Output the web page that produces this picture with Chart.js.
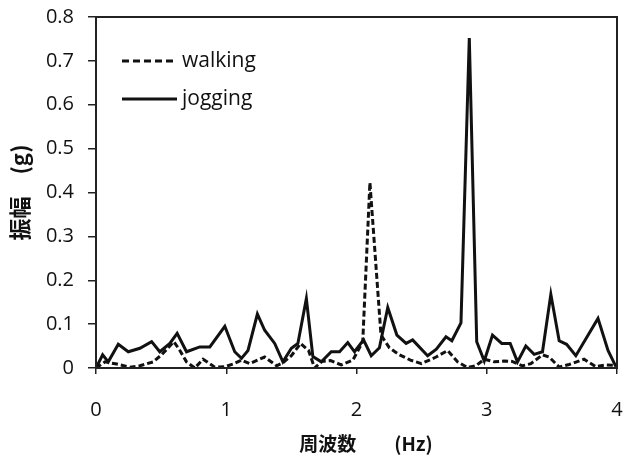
<!DOCTYPE html>
<html><head><meta charset="utf-8">
<script src="https://cdn.jsdelivr.net/npm/chart.js@4/dist/chart.umd.min.js"></script>
<style>html,body{margin:0;padding:0;background:#fff}#wrap{width:625px;height:455px;position:relative}</style>
</head><body><div id="wrap"><canvas id="c" width="625" height="455"></canvas></div>
<script>
const seriesNames = ['walking', 'jogging'];
const walkFreq = [0, 0.069, 0.159, 0.261, 0.337, 0.439, 0.503, 0.598, 0.644, 0.695, 0.759, 0.822, 0.912, 0.989, 1.052, 1.116, 1.180, 1.295, 1.387, 1.435, 1.500, 1.571, 1.632, 1.678, 1.732, 1.801, 1.883, 1.972, 2.048, 2.103, 2.188, 2.253, 2.330, 2.414, 2.498, 2.611, 2.700, 2.776, 2.853, 2.917, 2.981, 3.057, 3.134, 3.195, 3.274, 3.339, 3.428, 3.479, 3.556, 3.632, 3.747, 3.837, 3.913, 3.992];
const walkAmp = [0, 0.014, 0.009, 0.002, 0.005, 0.014, 0.030, 0.060, 0.040, 0.014, 0.000, 0.020, 0.002, 0.003, 0.009, 0.018, 0.010, 0.025, 0.005, 0.012, 0.028, 0.056, 0.040, 0.000, 0.015, 0.017, 0.007, 0.018, 0.060, 0.423, 0.075, 0.046, 0.030, 0.018, 0.010, 0.025, 0.040, 0.014, 0.001, 0.005, 0.020, 0.014, 0.016, 0.015, 0.005, 0.010, 0.030, 0.025, 0.002, 0.008, 0.020, 0.003, 0.007, 0.006];
const jogFreq = [0, 0.051, 0.094, 0.171, 0.248, 0.337, 0.427, 0.490, 0.567, 0.623, 0.695, 0.797, 0.874, 0.989, 1.065, 1.117, 1.167, 1.239, 1.295, 1.372, 1.435, 1.500, 1.550, 1.615, 1.665, 1.730, 1.806, 1.870, 1.933, 1.985, 2.054, 2.113, 2.176, 2.240, 2.310, 2.381, 2.431, 2.546, 2.613, 2.687, 2.732, 2.802, 2.866, 2.923, 2.981, 3.044, 3.115, 3.180, 3.236, 3.300, 3.364, 3.428, 3.492, 3.556, 3.613, 3.684, 3.854, 3.931, 3.992];
const jogAmp = [0, 0.030, 0.014, 0.054, 0.037, 0.045, 0.060, 0.037, 0.056, 0.079, 0.037, 0.048, 0.048, 0.095, 0.037, 0.022, 0.040, 0.123, 0.086, 0.056, 0.014, 0.045, 0.056, 0.158, 0.026, 0.014, 0.037, 0.037, 0.058, 0.037, 0.064, 0.028, 0.046, 0.138, 0.075, 0.056, 0.064, 0.028, 0.043, 0.071, 0.062, 0.103, 0.752, 0.060, 0.016, 0.075, 0.056, 0.056, 0.014, 0.050, 0.031, 0.037, 0.168, 0.062, 0.054, 0.028, 0.113, 0.040, 0.003];
const xTicks = [0, 1, 2, 3, 4];
const yTicks = [0, 0.1, 0.2, 0.3, 0.4, 0.5, 0.6, 0.7, 0.8];
const xTitle = '　周波数　　(Hz)';
const yTitle = '振幅　(g)';

const INK = '#111';
const toPts = (xs, ys) => xs.map((x, i) => ({x: x, y: ys[i]}));

const boxPlugin = {
  id: 'box',
  afterDraw(chart) {
    const {ctx, chartArea: a} = chart;
    ctx.save();
    ctx.strokeStyle = '#222';
    ctx.lineWidth = 2;
    ctx.setLineDash([]);
    ctx.strokeRect(a.left, a.top, a.right - a.left, a.bottom - a.top);
    ctx.restore();
  }
};

const legendPlugin = {
  id: 'inLegend',
  afterDraw(chart) {
    const {ctx} = chart;
    const rows = [{y: 61, txtY: 61}, {y: 99, txtY: 99}];
    ctx.save();
    chart.data.datasets.forEach((ds, i) => {
      const r = rows[i];
      ctx.strokeStyle = ds.borderColor;
      ctx.lineWidth = 3;
      ctx.setLineDash(ds.borderDash ? [7, 4] : []);
      ctx.beginPath();
      ctx.moveTo(122, r.y);
      ctx.lineTo(177, r.y);
      ctx.stroke();
      ctx.setLineDash([]);
      ctx.fillStyle = INK;
      ctx.font = '21px "Open Sans"';
      ctx.textBaseline = 'middle';
      ctx.textAlign = 'left';
      ctx.fillText(ds.label, 182, r.txtY);
    });
    ctx.restore();
  }
};

new Chart(document.getElementById('c'), {
  type: 'scatter',
  data: {
    datasets: [
      {label: seriesNames[0], data: toPts(walkFreq, walkAmp), showLine: true, borderColor: INK, borderWidth: 3, borderDash: [6, 3], pointRadius: 0, tension: 0, fill: false},
      {label: seriesNames[1], data: toPts(jogFreq, jogAmp), showLine: true, borderColor: INK, borderWidth: 3, pointRadius: 0, tension: 0, fill: false}
    ]
  },
  options: {
    responsive: false,
    animation: false,
    devicePixelRatio: 1,
    layout: {padding: {top: 17, right: 8, left: 0, bottom: 0}},
    plugins: {legend: {display: false}, tooltip: {enabled: false}},
    scales: {
      x: {
        type: 'linear', min: 0, max: 4,
        afterBuildTicks: s => { s.ticks = xTicks.map(v => ({value: v})); },
        ticks: {font: {family: 'Open Sans', size: 20}, color: INK, padding: 24, maxRotation: 0, callback: v => String(v)},
        grid: {display: true, drawOnChartArea: false, tickLength: 6, color: '#222', lineWidth: 1.5},
        border: {display: true, color: '#222', width: 2},
        title: {display: true, text: xTitle, color: INK, font: {family: 'Noto Sans CJK JP', size: 19, weight: 'bold'}, padding: {top: 2, bottom: 0}},
        afterFit: s => { s.height = 87; s.paddingLeft = 0; s.paddingRight = 0; s.paddingTop = 0; s.paddingBottom = 0; }
      },
      y: {
        type: 'linear', min: 0, max: 0.8,
        afterBuildTicks: s => { s.ticks = yTicks.map(v => ({value: v})); },
        ticks: {font: {family: 'Open Sans', size: 20}, color: INK, padding: 14, callback: v => (v === 0 ? '0' : v.toFixed(1))},
        grid: {display: true, drawOnChartArea: false, tickLength: 8, color: '#222', lineWidth: 1.5},
        border: {display: true, color: '#222', width: 2},
        title: {display: true, text: yTitle, color: INK, font: {family: 'Noto Sans CJK JP', size: 22, weight: 'bold'}, padding: {top: 6, bottom: 0}},
        afterFit: s => { s.width = 96; s.paddingLeft = 0; s.paddingRight = 0; s.paddingTop = 0; s.paddingBottom = 0; }
      }
    }
  },
  plugins: [boxPlugin, legendPlugin]
});
</script>
</body></html>
